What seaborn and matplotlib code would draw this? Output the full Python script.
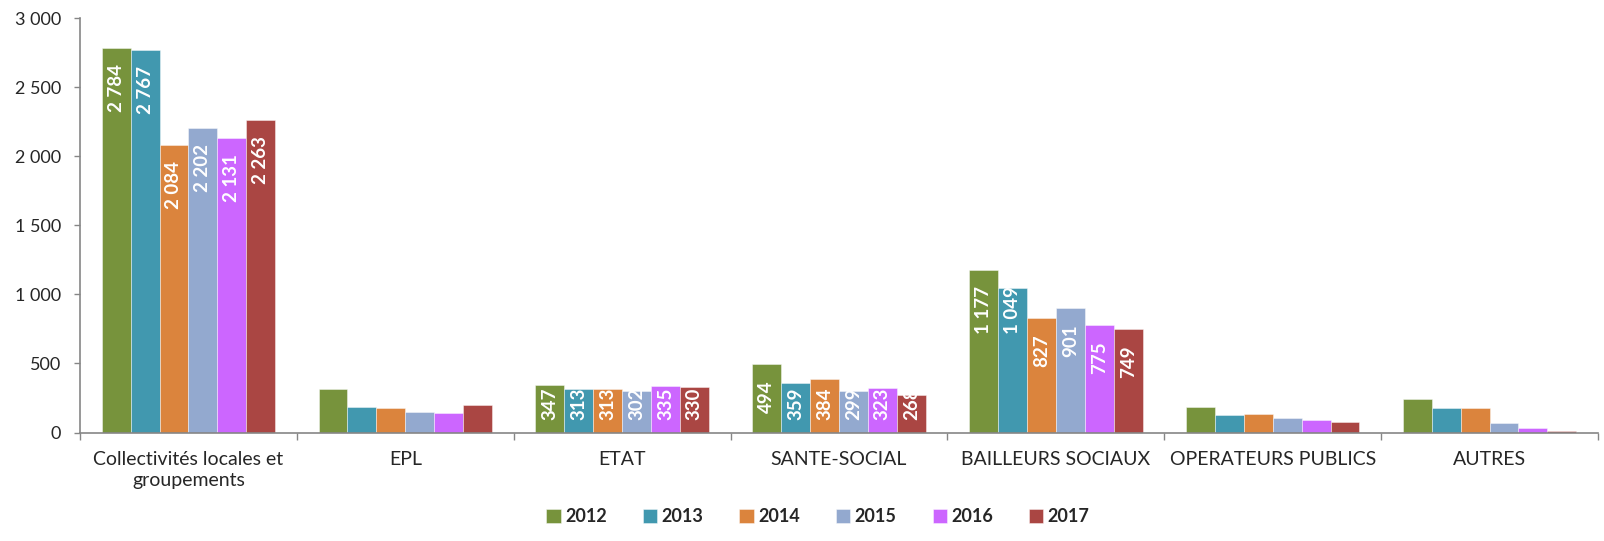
import matplotlib
matplotlib.use("Agg")
import matplotlib.pyplot as plt
import seaborn as sns
import pandas as pd
import numpy as np

categories = ["Collectivités locales et\ngroupements", "EPL", "ETAT", "SANTE-SOCIAL",
              "BAILLEURS SOCIAUX", "OPERATEURS PUBLICS", "AUTRES"]
years = ["2012", "2013", "2014", "2015", "2016", "2017"]
v2012 = [2784, 317, 347, 494, 1177, 186, 246]
v2013 = [2767, 188, 313, 359, 1049, 128, 174]
v2014 = [2084, 178, 313, 384, 827, 135, 181]
v2015 = [2202, 151, 302, 299, 901, 106, 68]
v2016 = [2131, 139, 335, 323, 775, 92, 29]
v2017 = [2263, 200, 330, 268, 749, 77, 14]
labelled = ["Collectivités locales et\ngroupements", "ETAT", "SANTE-SOCIAL", "BAILLEURS SOCIAUX"]
yticks = [0, 500, 1000, 1500, 2000, 2500, 3000]
colors = ["#77933C", "#4198AF", "#DB843D", "#93A9CF", "#CC66FF", "#AA4643"]

series = [v2012, v2013, v2014, v2015, v2016, v2017]
rows = []
for y, vals in zip(years, series):
    for c, v in zip(categories, vals):
        rows.append({"cat": c, "year": y, "val": v})
df = pd.DataFrame(rows)

sns.set_theme(style="white")
plt.rcParams['font.family'] = ['Lato', 'DejaVu Sans']

fig = plt.figure(figsize=(16.04, 5.41), dpi=100)
ax = fig.add_axes([80/1604, 1-432.5/541, (1598-80)/1604, (432.5-18.3)/541])

sns.barplot(data=df, x="cat", y="val", hue="year", order=categories, hue_order=years,
            palette=colors, width=0.8, saturation=1, ax=ax, legend=True,
            edgecolor=(1, 1, 1, 0.5), linewidth=0.6)

ax.set_xlim(-0.5, len(categories) - 0.5)
ax.set_ylim(0, 3000)

def fmt(v):
    return f"{v:,}".replace(",", " ")

fig.canvas.draw()
renderer = fig.canvas.get_renderer()
PAD_TOP = 16     # px below bar top
PAD_BASE = 12    # px above baseline when the label doesn't fit
for j, cont in enumerate(ax.containers):
    for i, bar in enumerate(cont):
        cat = categories[i]
        if cat not in labelled:
            continue
        h = bar.get_height()
        xc = bar.get_x() + bar.get_width() / 2
        t = ax.text(xc, h, fmt(int(round(h))), rotation=90, ha="center", va="top",
                    color="white", fontsize=13.5, fontweight="bold")
        ext = t.get_window_extent(renderer)
        tlen = ext.height
        top_px = ax.transData.transform((xc, h))[1]
        base_px = ax.transData.transform((xc, 0))[1]
        want_top = top_px - PAD_TOP
        if want_top - tlen < base_px + PAD_BASE:
            want_top = base_px + PAD_BASE + tlen
        if fmt(int(round(h))) == "1 049":
            want_top = top_px + 2
        ydata = ax.transData.inverted().transform((0, want_top))[1]
        t.set_y(ydata)

ax.set_yticks(yticks)
ax.set_yticklabels([fmt(t) for t in yticks])
ax.set_xticks(np.arange(-0.5, len(categories)), minor=False)
ax.set_xticklabels([])
ax.set_xticks(np.arange(len(categories)), minor=True)
ax.set_xticklabels(categories, minor=True, fontsize=14, linespacing=1.3)
ax.tick_params(axis="x", which="minor", length=0, pad=13)
ax.tick_params(axis="x", which="major", length=5, color="#868686", width=1, direction="out", bottom=True)
ax.tick_params(axis="y", length=4.5, color="#868686", width=1, direction="out", left=True, labelsize=13, pad=9)
ax.set_xlabel("")
ax.set_ylabel("")
for s in ["top", "right"]:
    ax.spines[s].set_visible(False)
for s in ["left", "bottom"]:
    ax.spines[s].set_color("#868686")
    ax.spines[s].set_linewidth(1.2)

handles, labels = ax.get_legend_handles_labels()
ax.legend_.remove()
fig.legend(handles, labels, loc="center", bbox_to_anchor=(818/1604, 1-517/541), ncol=6,
           frameon=False, prop={"weight": "bold", "size": 13}, handlelength=0.78,
           handleheight=0.78, handletextpad=0.25, columnspacing=2.0)

fig.savefig("out.png", dpi=100)
